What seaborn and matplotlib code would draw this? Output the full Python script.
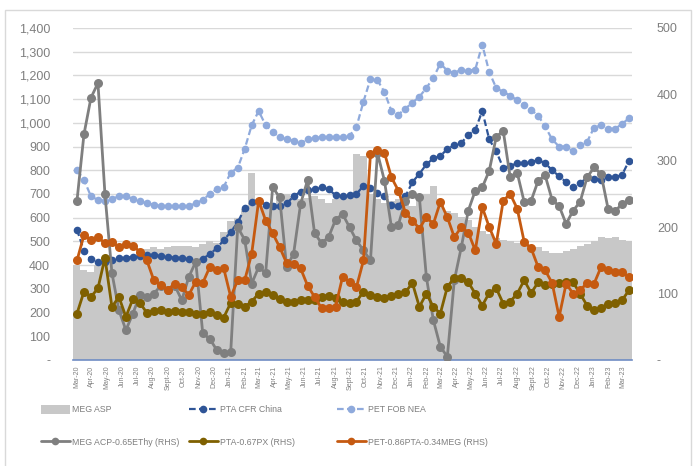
import pandas as pd
import numpy as np
import seaborn as sns
import matplotlib.pyplot as plt
import matplotlib.dates as mdates
from matplotlib.patches import Rectangle, Patch
from matplotlib.lines import Line2D
from matplotlib.ticker import FuncFormatter, MultipleLocator

# fortnightly readings, Mar-20 .. Mar-23
dates = pd.date_range('2020-03-02', periods=80, freq='14D')

# left axis (USD/t)
meg_asp = [400, 380, 370, 400, 410, 415, 420, 425, 440, 455,
           470, 475, 470, 476, 480, 480, 480, 478, 490, 500,
           495, 540, 585, 600, 635, 790, 680, 650, 660, 680,
           700, 690, 680, 685, 690, 680, 660, 680, 690, 700,
           870, 860, 700, 680, 660, 670, 680, 670, 650, 690,
           700, 735, 660, 630, 620, 605, 590, 560, 545, 530,
           515, 505, 500, 495, 490, 475, 476, 460, 450, 450,
           460, 470, 480, 490, 500, 520, 515, 520, 505, 500]
pta_cfr = [550, 460, 425, 415, 413, 420, 430, 432, 434, 438,
           443, 443, 438, 434, 432, 430, 425, 415, 428, 445,
           472, 505, 540, 580, 640, 665, 670, 655, 648, 650,
           660, 690, 710, 715, 722, 728, 720, 695, 690, 694,
           700, 735, 725, 705, 690, 655, 650, 690, 750, 785,
           825, 850, 860, 890, 905, 915, 950, 970, 1050, 930,
           880, 810, 818, 830, 830, 835, 843, 830, 800, 775,
           750, 728, 745, 770, 765, 760, 772, 772, 780, 840]
pet_fob = [800, 760, 690, 675, 670, 680, 690, 690, 680, 670,
           660, 655, 650, 648, 648, 648, 650, 660, 675, 700,
           720, 730, 790, 810, 890, 990, 1050, 990, 962, 940,
           930, 925, 915, 930, 935, 940, 940, 940, 940, 945,
           983, 1090, 1185, 1180, 1130, 1050, 1035, 1060, 1085, 1110,
           1147, 1190, 1250, 1220, 1210, 1225, 1220, 1225, 1330, 1214,
           1147, 1130, 1115, 1095, 1075, 1055, 1030, 985, 930, 900,
           900, 880, 905, 920, 980, 990, 975, 975, 995, 1020]

# right axis spreads
meg_acp = [240, 340, 395, 417, 250, 131, 75, 45, 70, 98,
           95, 100, 112, 105, 112, 90, 125, 148, 40, 32,
           15, 10, 12, 200, 181, 115, 140, 131, 260, 245,
           140, 160, 235, 271, 191, 176, 185, 211, 220, 200,
           180, 165, 150, 312, 270, 200, 204, 240, 250, 245,
           125, 60, 20, 5, 120, 170, 225, 255, 260, 285,
           336, 345, 275, 282, 238, 240, 270, 278, 241, 232,
           205, 225, 238, 275, 290, 280, 228, 224, 235, 241]
pta_px = [70, 103, 95, 108, 154, 80, 95, 65, 92, 86,
          71, 74, 75, 72, 74, 73, 72, 70, 70, 72,
          68, 64, 86, 85, 80, 88, 100, 102, 98, 92,
          87, 88, 90, 90, 90, 95, 97, 93, 88, 86,
          88, 103, 98, 95, 94, 96, 100, 102, 116, 80,
          100, 80, 70, 110, 124, 123, 117, 100, 82, 101,
          108, 85, 88, 100, 120, 101, 117, 113, 115, 116,
          117, 117, 100, 82, 76, 78, 85, 86, 90, 105]
pet_spread = [150, 188, 181, 185, 176, 178, 170, 175, 172, 163,
              150, 120, 113, 106, 115, 110, 98, 118, 116, 140,
              135, 138, 95, 120, 120, 160, 240, 210, 191, 170,
              146, 145, 138, 112, 95, 78, 78, 80, 125, 118,
              110, 150, 310, 316, 312, 275, 255, 222, 210, 198,
              215, 205, 238, 215, 185, 200, 192, 165, 230, 200,
              175, 240, 250, 228, 178, 168, 140, 135, 116, 65,
              115, 100, 105, 116, 115, 140, 136, 133, 132, 125]

labels = ['MEG ASP', 'PTA CFR China', 'PET FOB NEA',
          'MEG ACP-0.65EThy (RHS)', 'PTA-0.67PX (RHS)', 'PET-0.86PTA-0.34MEG (RHS)']
colors = ['#c8c8c8', '#2f5597', '#8faadc', '#7f7f7f', '#7f6000', '#c55a11']

sns.set_style('white')
plt.rcParams['font.family'] = ['Liberation Sans', 'DejaVu Sans']
txt = '#7f7f7f'

fig = plt.figure(figsize=(6.96, 4.66), dpi=100)
ax = fig.add_axes([73 / 696, 1 - 360 / 466, 559 / 696, 332 / 466])
ax2 = ax.twinx()

# MEG ASP as touching columns
ax.bar(dates, meg_asp, width=14, color=colors[0], linewidth=0, zorder=1)

ms = 5.5
ms2 = 6.5
dash = (0, (3, 1.5))
sns.lineplot(x=dates, y=pta_cfr, ax=ax, color=colors[1], marker='o', markersize=ms,
             markeredgewidth=0, linewidth=1.6, linestyle=dash, zorder=3)
sns.lineplot(x=dates, y=pet_fob, ax=ax, color=colors[2], marker='o', markersize=ms,
             markeredgewidth=0, linewidth=1.6, linestyle=dash, zorder=3)
sns.lineplot(x=dates, y=meg_acp, ax=ax2, color=colors[3], marker='o', markersize=ms2,
             markeredgewidth=0, linewidth=2)
sns.lineplot(x=dates, y=pta_px, ax=ax2, color=colors[4], marker='o', markersize=ms2,
             markeredgewidth=0, linewidth=2)
sns.lineplot(x=dates, y=pet_spread, ax=ax2, color=colors[5], marker='o', markersize=ms2,
             markeredgewidth=0, linewidth=2)

ax.set_ylim(0, 1400)
ax2.set_ylim(0, 500)
ax.set_xlim(dates[0] - pd.Timedelta(days=8), dates[-1] + pd.Timedelta(days=6))

ax.yaxis.set_major_locator(MultipleLocator(100))
ax2.yaxis.set_major_locator(MultipleLocator(100))
fmt = FuncFormatter(lambda v, p: '-' if v == 0 else f'{v:,.0f}')
ax.yaxis.set_major_formatter(fmt)
ax2.yaxis.set_major_formatter(fmt)
ax.grid(axis='y', color='#d9d9d9', linewidth=1)
ax.set_axisbelow(True)

ax.xaxis.set_major_locator(mdates.MonthLocator(bymonthday=1))
mon = ['Jan', 'Feb', 'Mar', 'Apr', 'May', 'Jun', 'Jul', 'Aug', 'Sept', 'Oct', 'Nov', 'Dec']
ax.xaxis.set_major_formatter(FuncFormatter(
    lambda v, p: f"{mon[mdates.num2date(v).month - 1]}-{mdates.num2date(v).year % 100:02d}"))

ax.tick_params(axis='y', length=0, pad=16.5, labelsize=9, labelcolor=txt)
ax2.tick_params(axis='y', length=0, pad=18, labelsize=9, labelcolor=txt)
ax.tick_params(axis='x', length=0, pad=4, labelsize=5, labelcolor=txt, labelrotation=90)

for a in (ax, ax2):
    for s in ('top', 'left', 'right'):
        a.spines[s].set_visible(False)
    a.set_xlabel('')
ax.spines['bottom'].set_color('#6f8cc4')
ax.spines['bottom'].set_linewidth(1.2)
ax2.spines['bottom'].set_visible(False)

# legend, three columns of two
h = [Patch(facecolor=colors[0], edgecolor='none')]
h.append(Line2D([], [], color=colors[1], lw=1.6, ls=dash, marker='o', ms=ms, mew=0))
h.append(Line2D([], [], color=colors[2], lw=1.6, ls=dash, marker='o', ms=ms, mew=0))
for c in colors[3:]:
    h.append(Line2D([], [], color=c, lw=2, marker='o', ms=ms, mew=0))
xs = [41, 189, 337]
for k in range(3):
    fig.legend([h[k], h[k + 3]], [labels[k], labels[k + 3]], loc='upper left',
               bbox_to_anchor=(xs[k] / 696, 1 - 405 / 466), frameon=False,
               fontsize=6.3, labelcolor=txt, handlelength=3.3, handleheight=1.2,
               handletextpad=0.3, labelspacing=2.6, borderaxespad=0, borderpad=0)

fig.patches.append(Rectangle((5 / 696, -0.01), 686 / 696, 1 - 10 / 466 + 0.01,
                             transform=fig.transFigure, fill=False,
                             edgecolor='#d9d9d9', linewidth=1))

fig.savefig('out.png', dpi=100)
